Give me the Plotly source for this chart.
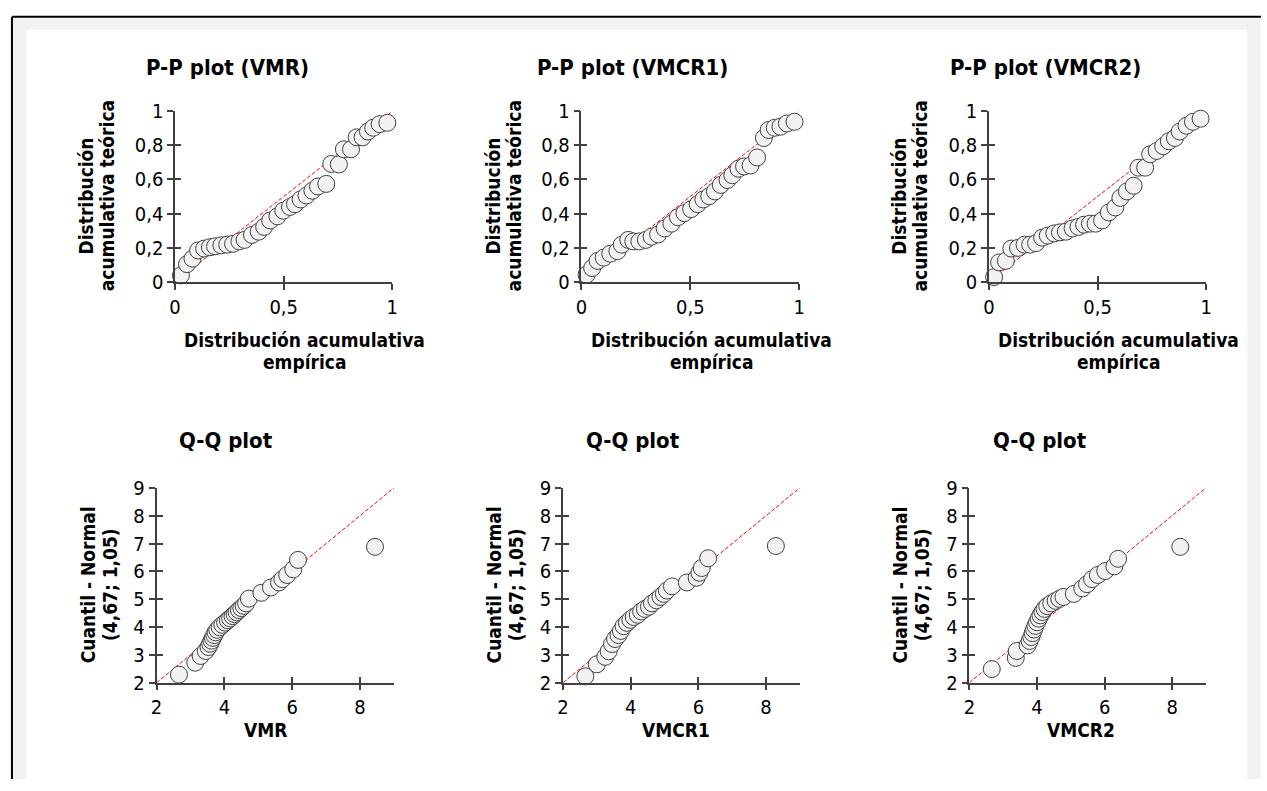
import plotly.graph_objects as go

# ---- P-P plots: empirical vs theoretical cumulative distribution ----
pp_vmr_emp = [0.027, 0.055, 0.080, 0.106, 0.134, 0.160, 0.184, 0.213, 0.240, 0.267,
              0.296, 0.320, 0.354, 0.385, 0.410, 0.438, 0.471, 0.498, 0.529, 0.552,
              0.578, 0.605, 0.632, 0.658, 0.696, 0.719, 0.754, 0.777, 0.810, 0.836,
              0.863, 0.888, 0.912, 0.942, 0.977]
pp_vmr_teo = [0.038, 0.104, 0.136, 0.184, 0.195, 0.203, 0.208, 0.214, 0.218, 0.223,
              0.237, 0.246, 0.275, 0.294, 0.322, 0.360, 0.384, 0.417, 0.439, 0.455,
              0.483, 0.506, 0.534, 0.559, 0.574, 0.691, 0.688, 0.777, 0.777, 0.847,
              0.847, 0.881, 0.903, 0.924, 0.932]

pp_vmcr1_emp = [0.023, 0.049, 0.074, 0.102, 0.132, 0.165, 0.185, 0.215, 0.238, 0.266,
                0.296, 0.322, 0.352, 0.382, 0.413, 0.443, 0.473, 0.504, 0.534, 0.560,
                0.587, 0.613, 0.640, 0.671, 0.693, 0.721, 0.747, 0.777, 0.807, 0.838,
                0.860, 0.888, 0.914, 0.944, 0.979]
pp_vmcr1_teo = [0.042, 0.081, 0.123, 0.142, 0.165, 0.180, 0.218, 0.246, 0.237, 0.237,
                0.246, 0.265, 0.278, 0.313, 0.341, 0.379, 0.403, 0.426, 0.455, 0.483,
                0.502, 0.530, 0.568, 0.597, 0.625, 0.663, 0.676, 0.682, 0.729, 0.843,
                0.890, 0.903, 0.909, 0.928, 0.938]

pp_vmcr2_emp = [0.024, 0.047, 0.078, 0.103, 0.134, 0.164, 0.190, 0.217, 0.245, 0.271,
                0.301, 0.327, 0.354, 0.385, 0.412, 0.438, 0.465, 0.491, 0.521, 0.552,
                0.582, 0.605, 0.635, 0.666, 0.688, 0.719, 0.742, 0.772, 0.802, 0.828,
                0.856, 0.878, 0.909, 0.939, 0.974]
pp_vmcr2_teo = [0.028, 0.114, 0.123, 0.195, 0.199, 0.218, 0.218, 0.227, 0.259, 0.271,
                0.284, 0.290, 0.294, 0.313, 0.322, 0.335, 0.341, 0.341, 0.360, 0.407,
                0.436, 0.492, 0.530, 0.563, 0.669, 0.669, 0.748, 0.767, 0.795, 0.824,
                0.843, 0.881, 0.915, 0.938, 0.956]

# ---- Q-Q plots: observed values vs Normal(4,67; 1,05) quantiles ----
qq_vmr_x = [2.66, 3.14, 3.30, 3.45, 3.53, 3.58, 3.62, 3.66, 3.70, 3.74, 3.79, 3.86,
            3.94, 4.02, 4.10, 4.17, 4.24, 4.30, 4.36, 4.43, 4.50, 4.57, 4.64, 4.72,
            5.09, 5.37, 5.61, 5.71, 5.85, 6.03, 6.17, 8.44]
qq_vmr_y = [2.29, 2.72, 2.96, 3.14, 3.28, 3.40, 3.51, 3.61, 3.71, 3.81, 3.90, 3.99,
            4.08, 4.16, 4.24, 4.31, 4.39, 4.46, 4.53, 4.61, 4.68, 4.76, 4.85, 5.02,
            5.23, 5.42, 5.60, 5.72, 5.87, 6.07, 6.41, 6.88]

qq_vmcr1_x = [2.66, 3.00, 3.25, 3.35, 3.45, 3.54, 3.64, 3.71, 3.79, 3.89, 3.99, 4.09,
              4.21, 4.31, 4.42, 4.54, 4.63, 4.76, 4.88, 4.98, 5.07, 5.22, 5.66, 5.95,
              6.03, 6.10, 6.29, 8.29]
qq_vmcr1_y = [2.23, 2.66, 2.93, 3.13, 3.39, 3.57, 3.71, 3.86, 4.03, 4.15, 4.26, 4.36,
              4.44, 4.56, 4.65, 4.73, 4.85, 4.96, 5.08, 5.19, 5.31, 5.46, 5.60, 5.77,
              5.95, 6.12, 6.47, 6.91]

qq_vmcr2_x = [2.66, 3.37, 3.40, 3.72, 3.78, 3.83, 3.87, 3.91, 3.95, 4.00, 4.05, 4.10,
              4.16, 4.22, 4.30, 4.42, 4.55, 4.66, 4.78, 5.09, 5.34, 5.48, 5.63, 5.80,
              6.02, 6.29, 6.40, 8.24]
qq_vmcr2_y = [2.49, 2.89, 3.14, 3.34, 3.50, 3.64, 3.78, 3.91, 4.04, 4.17, 4.30, 4.42,
              4.54, 4.65, 4.75, 4.85, 4.94, 5.01, 5.08, 5.19, 5.39, 5.54, 5.72, 5.87,
              6.01, 6.18, 6.45, 6.88]

pp_titles = ["P-P plot (VMR)", "P-P plot (VMCR1)", "P-P plot (VMCR2)"]
qq_titles = ["Q-Q plot", "Q-Q plot", "Q-Q plot"]
qq_xtitles = ["VMR", "VMCR1", "VMCR2"]
pp_xtitle = ["Distribución acumulativa", "empírica"]
pp_ytitle = ["Distribución", "acumulativa teórica"]
qq_ytitle = ["Cuantil - Normal", "(4,67; 1,05)"]

# ---- layout helpers ----
W, H = 1267, 791
FONT = "DejaVu Sans Condensed, DejaVu Sans, sans-serif"
AXIS_COLOR = "#404040"
TITLE_SIZE, LABEL_SIZE, TICK_SIZE = 22, 19, 20


def fx(px):
    return px / W


def fy(py):
    return 1 - py / H


panels = [
    # (x data, y data, x pixel span, y pixel span (bottom, top), range, dtick x, dtick y)
    (pp_vmr_emp, pp_vmr_teo, (170.7, 390.0), (278.3, 102.3), [0, 1], 0.5, 0.2),
    (pp_vmcr1_emp, pp_vmcr1_teo, (581.0, 800.7), (278.3, 102.3), [0, 1], 0.5, 0.2),
    (pp_vmcr2_emp, pp_vmcr2_teo, (992.3, 1211.7), (278.3, 102.3), [0, 1], 0.5, 0.2),
    (qq_vmr_x, qq_vmr_y, (152.0, 391.7), (691.7, 490.7), [2, 9], 2, 1),
    (qq_vmcr1_x, qq_vmcr1_y, (562.3, 801.5), (691.7, 490.7), [2, 9], 2, 1),
    (qq_vmcr2_x, qq_vmcr2_y, (972.7, 1211.4), (691.7, 490.7), [2, 9], 2, 1),
]

fig = go.Figure()
layout = {}
tick_font = dict(family=FONT, size=TICK_SIZE, color="black")

for i, (xs, ys, xspan, yspan, rng, dtx, dty) in enumerate(panels):
    k = i + 1
    ko = k + 6  # overlay axes carry the inward half of the crossing ticks
    base = dict(range=rng, showgrid=False, zeroline=False, showline=True,
                linecolor=AXIS_COLOR, linewidth=1.5, ticks="outside", ticklen=6,
                tickwidth=1.5, tickcolor=AXIS_COLOR, tickfont=tick_font, fixedrange=True)
    layout[f"xaxis{k}"] = dict(base, domain=[fx(xspan[0]), fx(xspan[1])],
                               anchor=f"y{k}", dtick=dtx, tick0=rng[0])
    layout[f"yaxis{k}"] = dict(base, domain=[fy(yspan[0]), fy(yspan[1])],
                               anchor=f"x{k}", dtick=dty, tick0=rng[0])
    over = dict(range=rng, showgrid=False, zeroline=False, showline=False,
                ticks="inside", ticklen=6, tickwidth=1.5, tickcolor=AXIS_COLOR,
                showticklabels=False, fixedrange=True)
    layout[f"xaxis{ko}"] = dict(over, overlaying=f"x{k}", anchor=f"y{k}",
                                dtick=dtx, tick0=rng[0])
    layout[f"yaxis{ko}"] = dict(over, overlaying=f"y{k}", anchor=f"x{k}",
                                side="left", dtick=dty, tick0=rng[0])

    # identity reference line
    fig.add_trace(go.Scatter(x=rng, y=rng, mode="lines",
                             line=dict(color="red", width=1, dash="4px,2px"),
                             xaxis=f"x{k}", yaxis=f"y{k}", showlegend=False,
                             hoverinfo="skip", cliponaxis=False))
    # data points
    fig.add_trace(go.Scatter(x=xs, y=ys, mode="markers",
                             marker=dict(size=17, color="#f2f2f2",
                                         line=dict(color=AXIS_COLOR, width=1)),
                             xaxis=f"x{ko}", yaxis=f"y{ko}", showlegend=False,
                             cliponaxis=False))

annotations = []


def text(x, y, s, size, angle=0, bold=True):
    annotations.append(dict(
        x=fx(x), y=fy(y), xref="paper", yref="paper", text=f"<b>{s}</b>" if bold else s,
        showarrow=False, textangle=angle, xanchor="center", yanchor="middle",
        font=dict(family=FONT, size=size, color="black")))


# titles
for cx, t in zip([224, 632, 1049], pp_titles):
    text(cx, 57, t, TITLE_SIZE)
for cx, t in zip([222, 633, 1044], qq_titles):
    text(cx, 442, t, TITLE_SIZE)

# P-P axis titles
for cx in [301, 712, 1123]:
    text(cx, 338, pp_xtitle[0], LABEL_SIZE)
    text(cx, 361, pp_xtitle[1], LABEL_SIZE)
for lx in [81, 492, 902]:
    text(lx, 190, pp_ytitle[0], LABEL_SIZE, angle=-90)
    text(lx + 21, 190, pp_ytitle[1], LABEL_SIZE, angle=-90)

# Q-Q axis titles
for cx, t in zip([262, 676, 1085], qq_xtitles):
    text(cx, 740, t, LABEL_SIZE)
for lx in [83, 493, 903]:
    text(lx, 591, qq_ytitle[0], LABEL_SIZE, angle=-90)
    text(lx + 22, 591, qq_ytitle[1], LABEL_SIZE, angle=-90)

# frame: grey band, white inner area, black outer edge
shapes = [
    dict(type="rect", xref="paper", yref="paper", x0=fx(6), x1=1, y0=0, y1=fy(5),
         fillcolor="#f2f2f2", line=dict(width=0), layer="below"),
    dict(type="rect", xref="paper", yref="paper", x0=fx(20.5), x1=fx(1253), y0=0,
         y1=fy(18.3), fillcolor="white", line=dict(width=0), layer="below"),
    dict(type="line", xref="paper", yref="paper", x0=fx(6), x1=fx(6), y0=0, y1=fy(5),
         line=dict(color="black", width=2), layer="below"),
    dict(type="line", xref="paper", yref="paper", x0=fx(6), x1=1, y0=fy(5), y1=fy(5),
         line=dict(color="black", width=2), layer="below"),
]

fig.update_layout(
    width=W, height=H, margin=dict(l=0, r=0, t=0, b=0),
    paper_bgcolor="white", plot_bgcolor="rgba(0,0,0,0)",
    separators=", ", showlegend=False,
    annotations=annotations, shapes=shapes,
    **layout,
)

# pin the figure to the window's top-left corner, without page margin or scrollbars
pin_script = """
document.documentElement.style.margin = '0';
document.documentElement.style.overflow = 'hidden';
document.body.style.margin = '0';
document.body.style.overflow = 'hidden';
var gd = document.getElementById('{plot_id}');
gd.style.position = 'fixed';
gd.style.left = '0px';
gd.style.top = '0px';
"""

fig.write_html("out.html", config={"displayModeBar": False}, post_script=pin_script)
